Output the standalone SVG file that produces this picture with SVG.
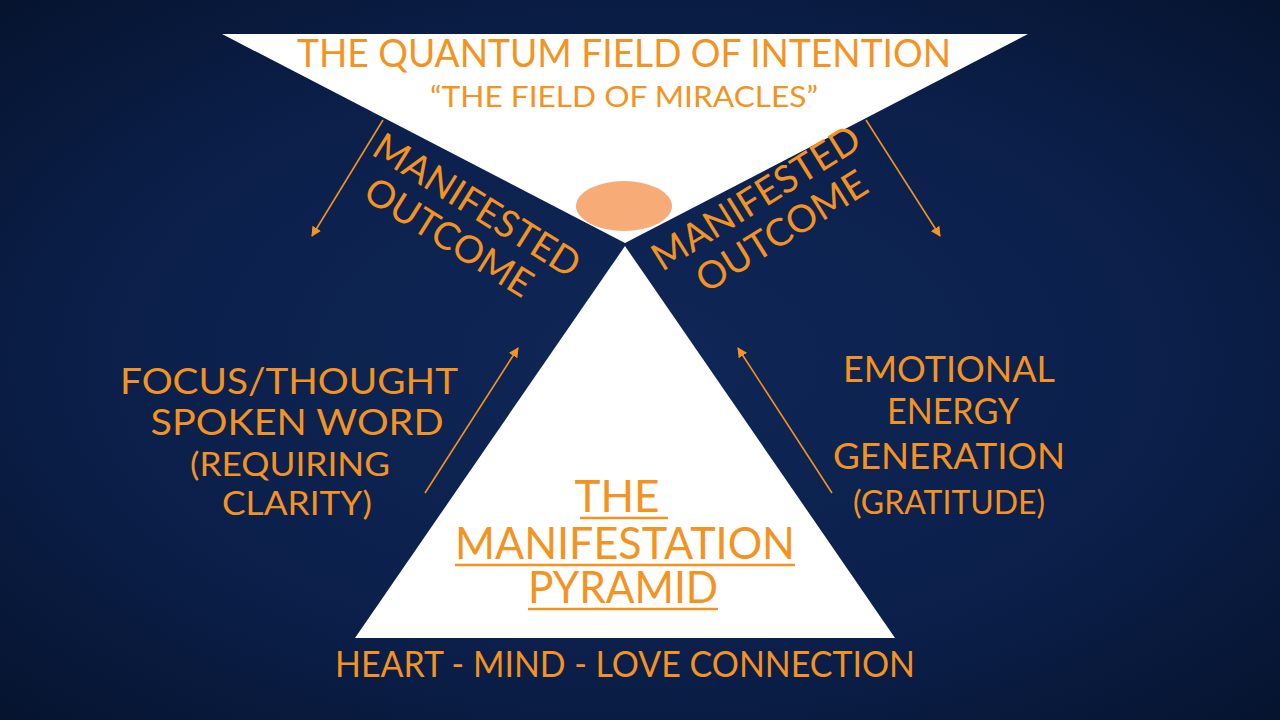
<svg xmlns="http://www.w3.org/2000/svg" width="1280" height="720" viewBox="0 0 1280 720">
<defs>
<radialGradient id="bg" cx="50%" cy="50%" r="70%">
<stop offset="0" stop-color="#0f2757"/>
<stop offset="0.6" stop-color="#0b1f4a"/>
<stop offset="1" stop-color="#06142f"/>
</radialGradient>
<marker id="ah" viewBox="0 0 10 10" refX="9" refY="5" markerWidth="10" markerHeight="10" markerUnits="userSpaceOnUse" orient="auto">
<path d="M0,0 L10,5 L0,10 z" fill="#f39322"/>
</marker>
<style>
.t{font-family:Lato,"Open Sans","Liberation Sans",sans-serif;fill:#f39322;}
.c{text-anchor:middle;}
.u{stroke:#f39322;stroke-width:2.5;}
.a{stroke:#f39322;stroke-width:1.6;fill:none;marker-end:url(#ah);}
</style>
</defs>
<rect width="1280" height="720" fill="url(#bg)"/>
<g id="field">
<polygon points="222,34 1028,34 625,243" fill="#ffffff"/>
<text class="t c" x="624" y="67" font-size="38" textLength="654" lengthAdjust="spacingAndGlyphs">THE QUANTUM FIELD OF INTENTION</text>
<text class="t c" x="624" y="107" font-size="29" textLength="388" lengthAdjust="spacingAndGlyphs">“THE FIELD OF MIRACLES”</text>
</g>
<g id="seed">
<ellipse cx="624" cy="206" rx="48" ry="25" fill="#f7ac78"/>
</g>
<g id="pyramid">
<polygon points="625,246 895,638 355,638" fill="#ffffff"/>
<text class="t c" x="617" y="512" font-size="44">THE</text>
<line class="u" x1="580" y1="518" x2="668" y2="518"/>
<text class="t c" x="625" y="559" font-size="44" textLength="340" lengthAdjust="spacingAndGlyphs">MANIFESTATION</text>
<line class="u" x1="455" y1="565" x2="795" y2="565"/>
<text class="t c" x="623" y="603" font-size="44" textLength="190" lengthAdjust="spacingAndGlyphs">PYRAMID</text>
<line class="u" x1="528" y1="609" x2="718" y2="609"/>
</g>
<g id="outcome-left">
<g transform="translate(370,154) rotate(32)">
<text class="t" x="0" y="0" font-size="38" textLength="236" lengthAdjust="spacingAndGlyphs">MANIFESTED</text>
<text class="t" x="16" y="42" font-size="38" textLength="190" lengthAdjust="spacingAndGlyphs">OUTCOME</text>
</g>
</g>
<g id="outcome-right">
<g transform="translate(662,272) rotate(-32)">
<text class="t" x="0" y="0" font-size="38" textLength="238" lengthAdjust="spacingAndGlyphs">MANIFESTED</text>
<text class="t" x="26" y="42" font-size="38" textLength="194" lengthAdjust="spacingAndGlyphs">OUTCOME</text>
</g>
</g>
<g id="focus">
<text class="t c" x="289" y="394" font-size="36" textLength="338" lengthAdjust="spacingAndGlyphs">FOCUS/THOUGHT</text>
<text class="t c" x="297" y="435" font-size="36" textLength="293" lengthAdjust="spacingAndGlyphs">SPOKEN WORD</text>
<text class="t c" x="290" y="476" font-size="32" textLength="200" lengthAdjust="spacingAndGlyphs">(REQUIRING</text>
<text class="t c" x="297" y="515" font-size="32" textLength="150" lengthAdjust="spacingAndGlyphs">CLARITY)</text>
</g>
<g id="emotion">
<text class="t c" x="949" y="382" font-size="36" textLength="212" lengthAdjust="spacingAndGlyphs">EMOTIONAL</text>
<text class="t c" x="953" y="424" font-size="36" textLength="132" lengthAdjust="spacingAndGlyphs">ENERGY</text>
<text class="t c" x="949" y="469" font-size="36" textLength="232" lengthAdjust="spacingAndGlyphs">GENERATION</text>
<text class="t c" x="949" y="514" font-size="32" textLength="192" lengthAdjust="spacingAndGlyphs">(GRATITUDE)</text>
</g>
<g id="base">
<text class="t c" x="625" y="677" font-size="37" textLength="580" lengthAdjust="spacingAndGlyphs">HEART - MIND - LOVE CONNECTION</text>
</g>
<g id="connectors">
<line class="a" x1="383" y1="120" x2="312" y2="236"/>
<line class="a" x1="866" y1="120" x2="940" y2="236"/>
<line class="a" x1="425" y1="493" x2="518" y2="348"/>
<line class="a" x1="832" y1="493" x2="738" y2="348"/>
</g>
</svg>
